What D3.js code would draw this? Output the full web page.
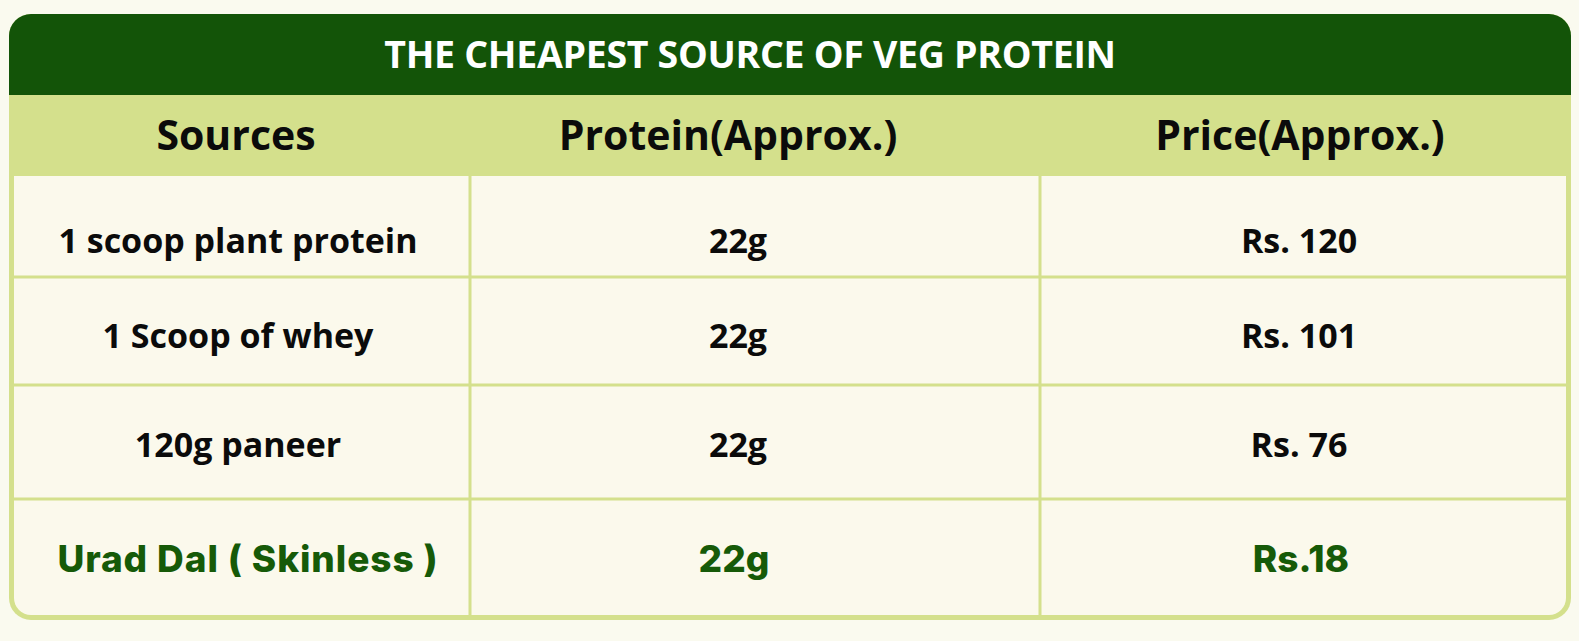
<!DOCTYPE html>
<html>
<head>
<meta charset="utf-8">
<script src="https://cdn.jsdelivr.net/npm/d3@7.9.0/dist/d3.min.js"></script>
<style>
  html, body { margin: 0; padding: 0; background: #fafaef; }
  svg { display: block; }
  text { font-family: "Open Sans", "Noto Sans", sans-serif; font-weight: 700; }
</style>
</head>
<body>
<div id="chart"></div>
<script>
const title   = 'THE CHEAPEST SOURCE OF VEG PROTEIN';
const columns = ['Sources', 'Protein(Approx.)', 'Price(Approx.)'];
const sources = ['1 scoop plant protein', '1 Scoop of whey', '120g paneer', 'Urad Dal ( Skinless )'];
const proteinGrams = [22, 22, 22, 22];
const priceLabels  = ['Rs. 120', 'Rs. 101', 'Rs. 76', 'Rs.18'];
const highlightRow = 3;

const rows = sources.map((s, i) => [s, `${proteinGrams[i]}g`, priceLabels[i]]);

// layout
const width = 1579, height = 641;
const box = { left: 9, right: 1571, top: 14, bottom: 620, r: 22, border: 5 };
const titleBottom = 95, headBottom = 176;
const colEdges = [box.left + box.border, 470, 1040, box.right - 5];
const rowEdges = [headBottom, 277, 385, 499, box.bottom - box.border];
const rowBaseline = [253, 348, 457, 572];
const colTextX = [238, 738, 1299];
const headTextX = [236, 728, 1300];
const highlightShift = [10, -4, 2];

const green = '#135408', light = '#d4e08c', cream = '#fbf9ec';

const svg = d3.select('#chart').append('svg')
  .attr('width', width).attr('height', height);

function roundedPath(x0, y0, x1, y1, rt, rb) {
  const p = d3.path();
  p.moveTo(x0 + rt, y0);
  p.lineTo(x1 - rt, y0);
  p.arcTo(x1, y0, x1, y0 + rt, rt);
  p.lineTo(x1, y1 - rb);
  p.arcTo(x1, y1, x1 - rb, y1, rb);
  p.lineTo(x0 + rb, y1);
  p.arcTo(x0, y1, x0, y1 - rb, rb);
  p.lineTo(x0, y0 + rt);
  p.arcTo(x0, y0, x0 + rt, y0, rt);
  p.closePath();
  return p.toString();
}

// outer frame (border colour) + body
svg.append('path')
  .attr('d', roundedPath(box.left, box.top, box.right, box.bottom, box.r, box.r))
  .attr('fill', light);
svg.append('path')
  .attr('d', roundedPath(colEdges[0], headBottom, colEdges[3], rowEdges[4], 0, box.r - box.border))
  .attr('fill', cream);
// title bar
svg.append('path')
  .attr('d', roundedPath(box.left, box.top, box.right, titleBottom, box.r, 0))
  .attr('fill', green);

const x = d3.scaleOrdinal().domain(d3.range(columns.length)).range(colTextX);
const xHead = d3.scaleOrdinal().domain(d3.range(columns.length)).range(headTextX);
const y = d3.scaleOrdinal().domain(d3.range(rows.length)).range(rowBaseline);

// grid lines
svg.append('g').selectAll('line')
  .data(colEdges.slice(1, -1))
  .join('line')
    .attr('x1', d => d).attr('x2', d => d)
    .attr('y1', headBottom).attr('y2', rowEdges[4])
    .attr('stroke', light).attr('stroke-width', 3);
svg.append('g').selectAll('line')
  .data(rowEdges.slice(1, -1))
  .join('line')
    .attr('x1', colEdges[0]).attr('x2', colEdges[3])
    .attr('y1', d => d).attr('y2', d => d)
    .attr('stroke', light).attr('stroke-width', 3);

// title
svg.append('text')
  .attr('x', 750).attr('y', 68)
  .attr('text-anchor', 'middle')
  .attr('fill', '#ffffff')
  .style('font-size', '37.5px')
  .style('letter-spacing', '-0.3px')
  .text(title);

// header
svg.append('g').selectAll('text')
  .data(columns)
  .join('text')
    .attr('x', (d, i) => xHead(i))
    .attr('y', 150)
    .attr('text-anchor', 'middle')
    .attr('fill', '#0b0b0b')
    .style('font-size', '41px')
    .text(d => d);

// body cells
const rowG = svg.append('g').selectAll('g')
  .data(rows)
  .join('g');

rowG.selectAll('text')
  .data((r, i) => r.map((v, j) => ({ v, i, j, hi: i === highlightRow })))
  .join('text')
    .attr('x', d => x(d.j) + (d.hi ? highlightShift[d.j] : 0))
    .attr('y', d => y(d.i))
    .attr('text-anchor', 'middle')
    .attr('fill', d => d.hi ? '#165a08' : '#0b0b0b')
    .style('font-family', d => d.hi ? 'Inter, sans-serif' : null)
    .style('font-weight', d => d.hi ? 800 : 700)
    .style('font-size', d => d.hi ? '37px' : '34px')
    .style('letter-spacing', d => d.hi && d.j === 0 ? '0.9px' : null)
    .text(d => d.v);
</script>
</body>
</html>
